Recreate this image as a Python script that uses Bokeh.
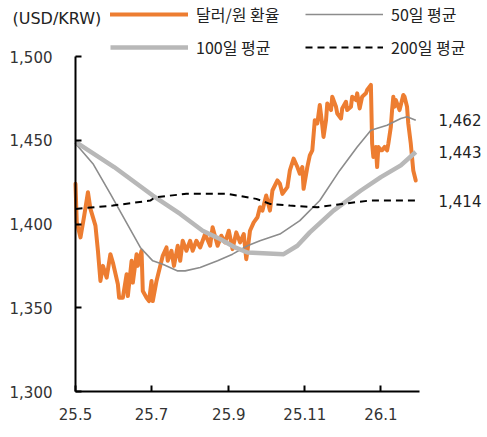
import pandas as pd
from bokeh.plotting import figure
from bokeh.models import (Range1d, FixedTicker, CustomJSTickFormatter, NumeralTickFormatter,
                          Label, Legend, LegendItem)
from bokeh.embed import file_html
from bokeh.resources import INLINE

KR = "Noto Sans CJK KR"
NUM = "DejaVu Sans"

# ---- data ----
fx_dates = ["2025-05-01","2025-05-02","2025-05-05","2025-05-08","2025-05-11","2025-05-13","2025-05-17",
            "2025-05-19","2025-05-21","2025-05-23","2025-05-26","2025-05-29","2025-05-31","2025-06-04",
            "2025-06-05","2025-06-08","2025-06-11","2025-06-12","2025-06-15","2025-06-16","2025-06-19",
            "2025-06-20","2025-06-23","2025-06-24","2025-06-27","2025-06-29","2025-07-01","2025-07-02",
            "2025-07-05","2025-07-08","2025-07-10","2025-07-13","2025-07-14","2025-07-17","2025-07-19",
            "2025-07-22","2025-07-24","2025-07-26","2025-07-29","2025-08-01","2025-08-03","2025-08-06",
            "2025-08-09","2025-08-13","2025-08-17","2025-08-19","2025-08-23","2025-08-26","2025-08-29",
            "2025-09-01","2025-09-04","2025-09-07","2025-09-10","2025-09-13","2025-09-15","2025-09-16",
            "2025-09-18","2025-09-21","2025-09-24","2025-09-26","2025-09-28","2025-10-01","2025-10-04",
            "2025-10-06","2025-10-10","2025-10-12","2025-10-14","2025-10-18","2025-10-20","2025-10-23",
            "2025-10-26","2025-10-28","2025-10-30","2025-10-31","2025-11-03","2025-11-05","2025-11-07",
            "2025-11-09","2025-11-11","2025-11-13","2025-11-15","2025-11-16","2025-11-18","2025-11-19",
            "2025-11-22","2025-11-23","2025-11-26","2025-11-27","2025-11-30","2025-12-01","2025-12-04",
            "2025-12-05","2025-12-08","2025-12-09","2025-12-12","2025-12-13","2025-12-15","2025-12-17",
            "2025-12-20","2025-12-21","2025-12-24","2025-12-25","2025-12-26","2025-12-28","2025-12-29",
            "2025-12-30","2026-01-01","2026-01-02","2026-01-04","2026-01-06","2026-01-07","2026-01-09",
            "2026-01-10","2026-01-11","2026-01-12","2026-01-13","2026-01-14","2026-01-16","2026-01-18",
            "2026-01-19","2026-01-20","2026-01-22","2026-01-23","2026-01-25","2026-01-27","2026-01-29"]
fx_values = [1424,1401,1392,1405,1419,1409,1399,1384,1366,1375,1368,1382,1377,1364,
             1356,1356,1370,1357,1378,1365,1382,1375,1384,1360,1356,1354,1366,1354,
             1366,1375,1381,1386,1378,1384,1375,1387,1378,1390,1384,1390,1384,1390,
             1386,1394,1387,1398,1387,1393,1389,1396,1385,1395,1389,1394,1379,1384,
             1396,1401,1404,1410,1408,1417,1408,1420,1426,1424,1418,1422,1432,1439,
             1434,1430,1434,1421,1434,1441,1444,1462,1460,1471,1459,1452,1462,1472,
             1468,1476,1470,1466,1463,1469,1473,1468,1470,1476,1474,1478,1469,1476,
             1478,1480,1483,1448,1440,1446,1434,1446,1444,1444,1446,1444,1448,1458,
             1468,1476,1470,1474,1472,1468,1474,1477,1476,1470,1460,1448,1432,1426]

ma50_dates = ["2025-05-01","2025-05-15","2025-05-29","2025-06-10","2025-06-22","2025-07-02","2025-07-10",
              "2025-07-22","2025-07-28","2025-08-09","2025-08-23","2025-09-04","2025-09-16","2025-09-26",
              "2025-10-12","2025-10-28","2025-11-13","2025-11-29","2025-12-13","2025-12-24","2026-01-06",
              "2026-01-17","2026-01-22","2026-01-29"]
ma50_values = [1448,1436,1418,1402,1386,1378,1376,1372,1372,1374,1378,1382,1387,1390,
               1394,1402,1414,1432,1446,1456,1459,1463,1464,1462]

ma100_dates = ["2025-05-01","2025-06-01","2025-07-02","2025-07-24","2025-08-11","2025-08-25","2025-09-06",
               "2025-09-16","2025-10-15","2025-10-26","2025-11-05","2025-11-24","2025-12-16","2026-01-01",
               "2026-01-17","2026-01-29"]
ma100_values = [1449,1434,1417,1406,1396,1391,1386,1383,1382,1387,1395,1408,1420,1428,
                1435,1443]

ma200_dates = ["2025-05-01","2025-05-31","2025-06-30","2025-07-04","2025-07-29","2025-08-31","2025-09-23",
               "2025-10-04","2025-10-20","2025-11-11","2025-12-01","2025-12-23","2026-01-29"]
ma200_values = [1409,1411,1414,1416,1418,1418,1415,1412,1411,1410,1412,1414,1414]

y_ticks = [1300, 1350, 1400, 1450, 1500]
x_tick_dates = ["2025-05-01", "2025-07-01", "2025-09-01", "2025-11-01", "2026-01-01"]
end_labels = [1462, 1443, 1414]
x_start, x_end = "2025-05-01", "2026-02-01"
y_start, y_end = 1300, 1500

# ---- layout (pixels) ----
W, H = 487, 437
AX_L, AX_R, AX_T, AX_B = 75, 419, 56, 391   # axis box in canvas pixels

t0, t1 = pd.Timestamp(x_start), pd.Timestamp(x_end)
ms_per_px = (t1 - t0).total_seconds() * 1000 / (AX_R - AX_L)
u_per_px = (y_end - y_start) / (AX_B - AX_T)
x0_ms = t0.value / 1e6
x1_ms = t1.value / 1e6

p = figure(width=W, height=H, output_backend="svg", toolbar_location=None,
           x_axis_type="datetime",
           x_range=Range1d(x0_ms - AX_L * ms_per_px, x1_ms + (W - AX_R) * ms_per_px),
           y_range=Range1d(y_start - (H - AX_B) * u_per_px, y_end + AX_T * u_per_px),
           min_border=0, min_border_left=0, min_border_right=0, min_border_top=0, min_border_bottom=0,
           background_fill_color="white", border_fill_color="white")
p.outline_line_color = None
p.grid.visible = False

r_fx = p.line(pd.to_datetime(fx_dates), fx_values, line_color="#ED7D31", line_width=4,
              line_join="round", line_cap="round")
r_50 = p.line(pd.to_datetime(ma50_dates), ma50_values, line_color="#8C8C8C", line_width=1.6)
r_100 = p.line(pd.to_datetime(ma100_dates), ma100_values, line_color="#B8B8B8", line_width=4.5,
               line_join="round")
r_200 = p.line(pd.to_datetime(ma200_dates), ma200_values, line_color="black", line_width=2,
               line_dash="7 5")

# axes pinned at the data origin
ya = p.yaxis[0]
ya.fixed_location = x0_ms
ya.bounds = (y_start, y_end)
ya.ticker = FixedTicker(ticks=y_ticks)
ya.formatter = NumeralTickFormatter(format="0,0")
xa = p.xaxis[0]
xa.fixed_location = y_start
xa.bounds = (x0_ms, x1_ms)
xa.ticker = FixedTicker(ticks=[pd.Timestamp(d).value // 10**6 for d in x_tick_dates])
xa.formatter = CustomJSTickFormatter(code="const d=new Date(tick); return (d.getUTCFullYear()%100)+'.'+(d.getUTCMonth()+1);")
for ax in (xa, ya):
    ax.axis_line_width = 2
    ax.axis_line_color = "black"
    ax.major_tick_line_color = "black"
    ax.major_tick_line_width = 2
    ax.major_tick_in = 6
    ax.major_tick_out = 0
    ax.minor_tick_line_color = None
    ax.major_label_text_font = NUM
    ax.major_label_text_font_size = "15px"
    ax.major_label_text_color = "#333333"
ya.major_label_standoff = 23
xa.major_label_standoff = 16

# legends (one per entry)
def add_leg(label, r, x, y_center):
    gh = 20
    lg = Legend(items=[LegendItem(label=label, renderers=[r])],
                location=(x, H - y_center - gh / 2),
                padding=0, margin=0, spacing=0, glyph_width=78, glyph_height=gh,
                label_height=gh, label_standoff=8, label_text_font=KR,
                label_text_font_size="16px", label_text_color="#222222",
                border_line_alpha=0, background_fill_alpha=0)
    p.add_layout(lg)

add_leg("달러/원 환율", r_fx, 110, 16)
add_leg("50일 평균", r_50, 305, 16)
add_leg("100일 평균", r_100, 110, 49)
add_leg("200일 평균", r_200, 305, 49)

p.add_layout(Label(x=12, y=H - 18, x_units="screen", y_units="screen", text="(USD/KRW)",
                   text_font=NUM, text_font_size="16px", text_color="#222222",
                   text_baseline="middle"))
for v in end_labels:
    p.add_layout(Label(x=438, y=v, x_units="screen", y_units="data", text=f"{v:,}",
                       text_font=NUM, text_font_size="15px", text_color="#222222",
                       text_baseline="middle"))

open("out.html", "w").write(file_html(p, INLINE))
